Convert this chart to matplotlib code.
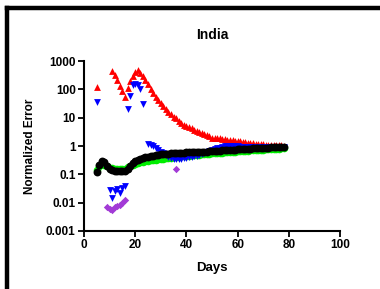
import numpy as np
import matplotlib
matplotlib.use('Agg')
import matplotlib.pyplot as plt
from matplotlib.ticker import FuncFormatter, NullLocator
from matplotlib.lines import Line2D

plt.rcParams['font.family'] = ['Liberation Sans', 'DejaVu Sans']
plt.rcParams['font.weight'] = 'bold'

# data
red_days = [5] + list(range(11, 79))
red_vals = [120,
            450, 330, 220, 130, 85, 55, 110, 190, 300, 400, 470, 380, 300, 210,
            150, 105, 75, 55, 42, 32, 25, 20, 16, 13, 11, 9.5, 7.5, 6.3, 5.5,
            5.0, 4.6, 4.2, 3.8, 3.4, 3.1, 2.8, 2.6, 2.4, 2.2, 2.0, 1.95, 1.9,
            1.85, 1.8, 1.75, 1.7, 1.65, 1.6, 1.55, 1.5, 1.45, 1.4, 1.35, 1.3,
            1.27, 1.24, 1.21, 1.18, 1.16, 1.14, 1.12, 1.10, 1.09, 1.08, 1.07,
            1.06, 1.05, 1.04]

blue_days = [5] + list(range(10, 24)) + list(range(25, 79))
blue_vals = [35,
             0.028, 0.015, 0.026, 0.030, 0.022, 0.032, 0.040,
             20, 60, 140, 150, 140, 100, 30,
             1.15, 1.1, 1.0, 0.85, 0.72, 0.62, 0.55, 0.48, 0.42, 0.38, 0.36,
             0.35, 0.35, 0.36, 0.37, 0.38, 0.40, 0.42, 0.44, 0.46, 0.49, 0.52,
             0.56, 0.60, 0.65, 0.70, 0.76, 0.82, 0.88, 0.93, 0.97, 1.0, 1.02,
             1.02, 1.0, 0.98, 0.96, 0.94, 0.93, 0.92, 0.91, 0.90, 0.90, 0.90,
             0.90, 0.91, 0.91, 0.92, 0.92, 0.93, 0.93, 0.94, 0.94, 0.95]

purple_days = [9, 10, 11, 12, 13, 14, 15, 16, 36]
purple_vals = [0.0072, 0.0062, 0.0056, 0.0068, 0.0078, 0.0085, 0.0100, 0.0125, 0.15]

line_days = list(range(5, 79))
green_vals = [0.14, 0.20, 0.24, 0.22, 0.19, 0.17, 0.17, 0.16, 0.16, 0.16,
              0.16, 0.16, 0.18, 0.20, 0.22, 0.24, 0.26, 0.27, 0.28, 0.29,
              0.30, 0.31, 0.32, 0.33, 0.34, 0.35, 0.36, 0.37, 0.38, 0.39,
              0.40, 0.41, 0.42, 0.43, 0.44, 0.45, 0.46, 0.47, 0.48, 0.49,
              0.50, 0.51, 0.52, 0.53, 0.54, 0.55, 0.56, 0.57, 0.58, 0.59,
              0.60, 0.61, 0.62, 0.63, 0.64, 0.65, 0.66, 0.67, 0.68, 0.69,
              0.70, 0.71, 0.72, 0.73, 0.74, 0.75, 0.76, 0.77, 0.78, 0.79,
              0.80, 0.81, 0.82, 0.84]
black_vals = [0.12, 0.22, 0.30, 0.27, 0.20, 0.16, 0.14, 0.13, 0.13, 0.13,
              0.13, 0.135, 0.16, 0.20, 0.25, 0.30, 0.33, 0.36, 0.38, 0.40,
              0.42, 0.44, 0.46, 0.48, 0.50, 0.51, 0.52, 0.53, 0.54, 0.55,
              0.56, 0.57, 0.58, 0.58, 0.59, 0.60, 0.60, 0.61, 0.61, 0.62,
              0.62, 0.63, 0.64, 0.64, 0.65, 0.66, 0.67, 0.68, 0.69, 0.70,
              0.71, 0.72, 0.73, 0.74, 0.75, 0.76, 0.77, 0.78, 0.79, 0.80,
              0.81, 0.82, 0.83, 0.84, 0.85, 0.86, 0.87, 0.88, 0.89, 0.90,
              0.91, 0.92, 0.93, 0.95]

fig = plt.figure(figsize=(3.8, 2.89), dpi=100)
ax = fig.add_axes([0.221, 0.2007, 0.674, 0.588])

ax.scatter(red_days, red_vals, marker='^', s=24, c='#ff0000', linewidths=0)
ax.scatter(line_days, green_vals, marker='o', s=30, c='#00ee00', linewidths=0)
ax.scatter(blue_days, blue_vals, marker='v', s=24, c='#0000ff', linewidths=0)
ax.scatter(purple_days, purple_vals, marker='D', s=14, c='#a23ad6', linewidths=0)
ax.scatter(line_days, black_vals, marker='o', s=32, c='black', linewidths=0)

ax.set_yscale('log')
ax.set_ylim(0.001, 1000)
ax.set_xlim(0, 100)
ax.set_xticks([0, 20, 40, 60, 80, 100])
ax.set_yticks([0.001, 0.01, 0.1, 1, 10, 100, 1000])
ax.yaxis.set_minor_locator(NullLocator())
ax.yaxis.set_major_formatter(FuncFormatter(lambda v, p: '%g' % v))

for side in ['top', 'right']:
    ax.spines[side].set_visible(False)
for side in ['left', 'bottom']:
    ax.spines[side].set_linewidth(1.5)
ax.tick_params(direction='out', length=4, width=1.3, labelsize=8.5, pad=2)
for lab in ax.get_xticklabels() + ax.get_yticklabels():
    lab.set_fontweight('bold')

ax.set_title('India', fontsize=10, fontweight='bold', pad=16)
ax.set_xlabel('Days', fontsize=9.5, fontweight='bold', labelpad=8)
ax.set_ylabel('Normalized Error', fontsize=8.5, fontweight='bold', labelpad=7)

# outer frame (left and top edges)
fig.add_artist(Line2D([0.018, 0.018], [0.0, 0.971], color='black', lw=3.2, transform=fig.transFigure, solid_capstyle='projecting'))
fig.add_artist(Line2D([0.018, 1.0], [0.971, 0.971], color='black', lw=3.2, transform=fig.transFigure, solid_capstyle='projecting'))

fig.savefig('out.png', dpi=100)
